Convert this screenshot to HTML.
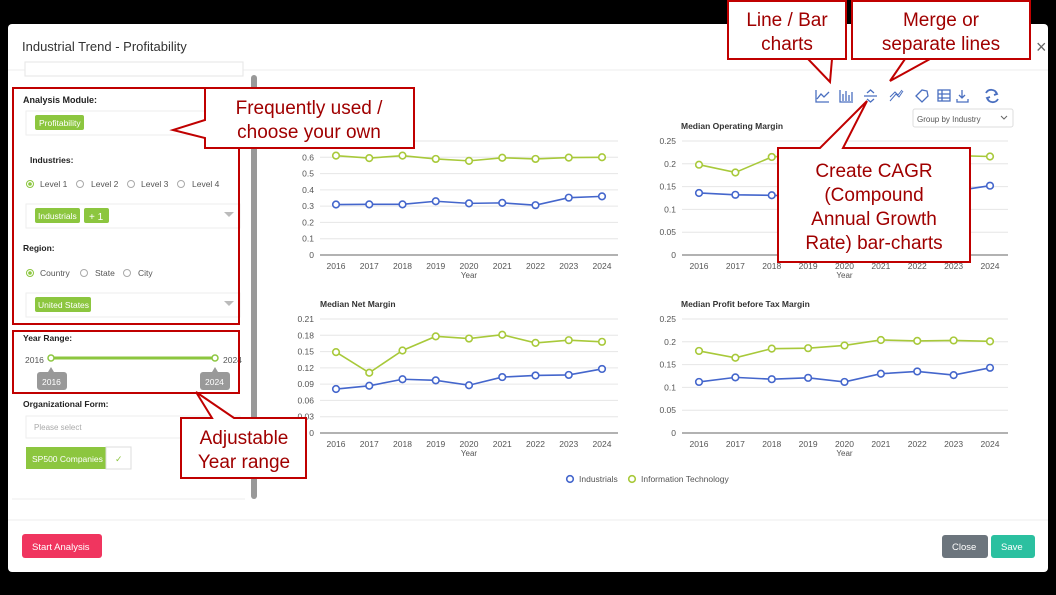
<!DOCTYPE html>
<html><head><meta charset="utf-8">
<style>
body{margin:0;background:#000;width:1056px;height:595px;overflow:hidden;font-family:"Liberation Sans",sans-serif}
svg{position:absolute;left:0;top:0}
</style></head><body>
<svg id="s" width="1056" height="595" xmlns="http://www.w3.org/2000/svg" font-family="Liberation Sans, sans-serif">
<rect x="0" y="0" width="1056" height="595" fill="#000"/>
<rect x="8" y="24" width="1040" height="548" rx="4" fill="#fff"/>
<text x="22" y="51" font-size="13" fill="#333">Industrial Trend - Profitability</text>
<text x="1036" y="53" font-size="18" fill="#666">×</text>
<line x1="8" y1="70" x2="1048" y2="70" stroke="#eee"/>
<line x1="8" y1="520" x2="1048" y2="520" stroke="#eee"/>
<!-- left panel -->
<rect x="25" y="62" width="218" height="14" fill="#fff" stroke="#e5e5e5"/>
<rect x="251" y="75" width="6" height="424" rx="3" fill="#999"/>
<line x1="12" y1="499" x2="245" y2="499" stroke="#eee"/>
<text x="23" y="103" font-size="9" font-weight="bold" fill="#222">Analysis Module:</text>
<rect x="26" y="111" width="214" height="24" fill="#fff" stroke="#eee"/>
<rect x="35" y="115" width="49" height="15" rx="2" fill="#8cc63f"/>
<text x="39" y="126" font-size="8.5" fill="#fff">Profitability</text>
<text x="30" y="163" font-size="8.5" font-weight="bold" fill="#222">Industries:</text>
<g font-size="8.5" fill="#555">
<circle cx="30" cy="184" r="3.5" fill="none" stroke="#8cc63f"/><circle cx="30" cy="184" r="1.8" fill="#8cc63f"/>
<text x="40" y="187">Level 1</text>
<circle cx="80" cy="184" r="3.5" fill="none" stroke="#aaa"/><text x="91" y="187">Level 2</text>
<circle cx="131" cy="184" r="3.5" fill="none" stroke="#aaa"/><text x="141" y="187">Level 3</text>
<circle cx="181" cy="184" r="3.5" fill="none" stroke="#aaa"/><text x="192" y="187">Level 4</text>
</g>
<rect x="26" y="204" width="214" height="24" fill="#fff" stroke="#eee"/>
<rect x="35" y="208" width="45" height="15" rx="2" fill="#8cc63f"/>
<text x="38" y="219" font-size="8.5" fill="#fff">Industrials</text>
<rect x="84" y="208" width="25" height="15" rx="2" fill="#8cc63f"/>
<text x="89" y="220" font-size="10" fill="#fff">+ 1</text>
<polygon points="224,212 234,212 229,217" fill="#bbb"/>
<text x="23" y="251" font-size="8.5" font-weight="bold" fill="#222">Region:</text>
<g font-size="8.5" fill="#555">
<circle cx="30" cy="273" r="3.5" fill="none" stroke="#8cc63f"/><circle cx="30" cy="273" r="1.8" fill="#8cc63f"/>
<text x="40" y="276">Country</text>
<circle cx="84" cy="273" r="3.5" fill="none" stroke="#aaa"/><text x="95" y="276">State</text>
<circle cx="127" cy="273" r="3.5" fill="none" stroke="#aaa"/><text x="138" y="276">City</text>
</g>
<rect x="26" y="293" width="214" height="24" fill="#fff" stroke="#eee"/>
<rect x="35" y="297" width="56" height="15" rx="2" fill="#8cc63f"/>
<text x="38" y="308" font-size="8.5" fill="#fff">United States</text>
<polygon points="224,301 234,301 229,306" fill="#bbb"/>
<text x="23" y="341" font-size="8.5" font-weight="bold" fill="#222">Year Range:</text>
<text x="25" y="363" font-size="8.5" fill="#555">2016</text>
<text x="223" y="363" font-size="8.5" fill="#555">2024</text>
<line x1="51" y1="358" x2="215" y2="358" stroke="#8cc63f" stroke-width="3"/>
<circle cx="51" cy="358" r="3" fill="#fff" stroke="#8cc63f" stroke-width="1.5"/>
<circle cx="215" cy="358" r="3" fill="#fff" stroke="#8cc63f" stroke-width="1.5"/>
<rect x="37" y="372" width="30" height="18" rx="3" fill="#999"/><polygon points="48,372 51,367 54,372" fill="#999"/>
<text x="42" y="385" font-size="8.5" fill="#fff">2016</text>
<rect x="200" y="372" width="30" height="18" rx="3" fill="#999"/><polygon points="212,372 215,367 218,372" fill="#999"/>
<text x="205" y="385" font-size="8.5" fill="#fff">2024</text>
<text x="23" y="407" font-size="8.5" font-weight="bold" fill="#222">Organizational Form:</text>
<rect x="26" y="416" width="214" height="22" fill="#fff" stroke="#eee"/>
<text x="34" y="430" font-size="8" fill="#aaa">Please select</text>
<rect x="26" y="447" width="80" height="22" fill="#8cc63f"/>
<rect x="106" y="447" width="25" height="22" fill="#fff" stroke="#ddd"/>
<text x="32" y="462" font-size="8.5" fill="#fff">SP500 Companies</text>
<text x="115" y="462" font-size="9" fill="#8cc63f">✓</text>
<!-- toolbar -->
<g fill="none" stroke="#4a6fc0" stroke-width="1.3">
<path d="M816,90 V102 H829 M817,99 L821,94 L824,97 L829,92"/>
<path d="M840,90 V102 H853 M843,101 V94 M846,101 V91 M849,101 V95 M852,101 V92"/>
<path d="M864,96 H877 M867,93 L870.5,90 L874,93 M867,99 L870.5,102 L874,99"/>
<path d="M890,101 L896,94 L899,97 L903,91 M890,97 L895,92 L898,95 L902,90" stroke-width="1"/>
<path d="M916,96 L922,90 L927,91 L928,96 L922,102 Z"/>
<rect x="938" y="90" width="12" height="11"/><path d="M938,94 H950 M938,98 H950 M942,90 V101"/>
<path d="M962,90 V98 M959,95 L962,98 L965,95 M957,99 V102 H968 V99"/>
<path d="M986,93 A6,6 0 0 1 997,94 M998,99 A6,6 0 0 1 987,98 M995,91 L997,94 L994,95 M989,101 L987,98 L990,97" stroke-width="1.8"/>
</g>
<rect x="913" y="109" width="100" height="18" rx="2" fill="#fff" stroke="#ddd"/>
<text x="917" y="122" font-size="8" fill="#555">Group by Industry</text>
<path d="M1001,116 L1004,119 L1007,116" fill="none" stroke="#666"/>
<g id="charts"></g>
<!-- legend -->
<circle cx="570" cy="479" r="3.3" fill="#fff" stroke="#4466cc" stroke-width="1.6"/>
<text x="579" y="482" font-size="8.5" fill="#555">Industrials</text>
<circle cx="632" cy="479" r="3.3" fill="#fff" stroke="#a8c93a" stroke-width="1.6"/>
<text x="641" y="482" font-size="8.5" fill="#555">Information Technology</text>
<!-- footer -->
<rect x="22" y="534" width="80" height="24" rx="3" fill="#f0355f"/>
<text x="32" y="550" font-size="9.5" fill="#fff">Start Analysis</text>
<rect x="942" y="535" width="46" height="23" rx="3" fill="#6c757d"/>
<text x="952" y="550" font-size="9.5" fill="#fff">Close</text>
<rect x="991" y="535" width="44" height="23" rx="3" fill="#2bc0a0"/>
<text x="1001" y="550" font-size="9.5" fill="#fff">Save</text>
<!-- annotations -->
<g id="ann" fill="#fff" stroke="#c00000" stroke-width="2">
<rect x="13" y="88" width="226" height="236" fill="none"/>
<rect x="13" y="331" width="226" height="62" fill="none"/>
<polygon points="205,88 414,88 414,148 205,148 205,138 173,130 205,120"/>
<rect x="728" y="1" width="118" height="58"/>
<polygon points="808,59 832,59 830,82"/>
<rect x="852" y="1" width="178" height="58"/>
<polygon points="905,59 930,59 890,81"/>
<polygon points="778,148 820,148 867,101 843,148 970,148 970,262 778,262"/>
<polygon points="181,418 212,418 196,392 234,418 306,418 306,478 181,478"/>
</g>
<g fill="#a00000" font-size="19" text-anchor="middle">
<text x="309" y="114">Frequently used /</text>
<text x="309" y="138">choose your own</text>
<text x="787" y="26">Line / Bar</text>
<text x="787" y="50">charts</text>
<text x="941" y="26">Merge or</text>
<text x="941" y="50">separate lines</text>
<text x="874" y="177">Create CAGR</text>
<text x="874" y="201">(Compound</text>
<text x="874" y="225">Annual Growth</text>
<text x="874" y="249">Rate) bar-charts</text>
<text x="244" y="444">Adjustable</text>
<text x="244" y="468">Year range</text>
</g>
</svg>
<script>
var ns="http://www.w3.org/2000/svg",g=document.getElementById('charts'),ann=document.getElementById('ann');
function el(t,a,tx){var e=document.createElementNS(ns,t);for(var k in a)e.setAttribute(k,a[k]);if(tx!=null)e.textContent=tx;g.appendChild(e);return e;}
var yrs=[2016,2017,2018,2019,2020,2021,2022,2023,2024];
function chart(o){
 var n=o.ticks.length-1,step=(o.y0-o.yt)/n,max=o.ticks[n];
 if(o.title)el('text',{x:o.tx,y:o.yt-12,'font-size':8.5,'font-weight':'bold',fill:'#333'},o.title);
 for(var i=0;i<=n;i++){var y=o.y0-i*step;
  el('line',{x1:o.ax0,x2:o.ax1,y1:y,y2:y,stroke:i?'#e6e6e6':'#666','stroke-width':1});
  el('text',{x:o.ax0-6,y:y+3,'font-size':8.5,fill:'#555','text-anchor':'end'},o.ticks[i]);}
 var xs=yrs.map(function(_,i){return o.x0+i*(o.x1-o.x0)/8});
 xs.forEach(function(x,i){el('text',{x:x,y:o.y0+14,'font-size':8.5,fill:'#555','text-anchor':'middle'},yrs[i]);});
 el('text',{x:(o.x0+o.x1)/2,y:o.y0+23,'font-size':8,fill:'#555','text-anchor':'middle'},'Year');
 [[o.g,'#a8c93a'],[o.b,'#4466cc']].forEach(function(s){
  var p=s[0].map(function(v,i){return xs[i]+','+(o.y0-v/max*(o.y0-o.yt))});
  el('polyline',{points:p.join(' '),fill:'none',stroke:s[1],'stroke-width':1.6});
  p.forEach(function(q){q=q.split(',');el('circle',{cx:q[0],cy:q[1],r:3.3,fill:'#fff',stroke:s[1],'stroke-width':1.6});});
 });
}
chart({ticks:['0','0.1','0.2','0.3','0.4','0.5','0.6','0.7'],y0:255,yt:141,ax0:320,ax1:618,x0:336,x1:602,tx:0,
 g:[.61,.595,.61,.59,.578,.597,.59,.598,.6],b:[.31,.311,.311,.33,.317,.32,.306,.352,.36]});
chart({title:'Median Operating Margin',tx:681,ticks:['0','0.05','0.1','0.15','0.2','0.25'],y0:255,yt:141,ax0:682,ax1:1008,x0:699,x1:990,
 g:[.198,.181,.215,.22,.218,.222,.22,.218,.216],b:[.136,.132,.131,.128,.13,.132,.135,.14,.152]});
chart({title:'Median Net Margin',tx:320,ticks:['0','0.03','0.06','0.09','0.12','0.15','0.18','0.21'],y0:433,yt:319,ax0:320,ax1:618,x0:336,x1:602,
 g:[.149,.111,.152,.178,.174,.181,.166,.171,.168],b:[.081,.087,.099,.097,.088,.103,.106,.107,.118]});
chart({title:'Median Profit before Tax Margin',tx:681,ticks:['0','0.05','0.1','0.15','0.2','0.25'],y0:433,yt:319,ax0:682,ax1:1008,x0:699,x1:990,
 g:[.18,.165,.185,.186,.192,.204,.202,.203,.201],b:[.112,.122,.118,.121,.112,.13,.135,.127,.143]});
// bring annotations above charts
var s=document.getElementById('s');var rest=[];var n=ann;while(n){rest.push(n);n=n.nextSibling;}rest.forEach(function(e){s.appendChild(e);});
</script>
</body></html>
